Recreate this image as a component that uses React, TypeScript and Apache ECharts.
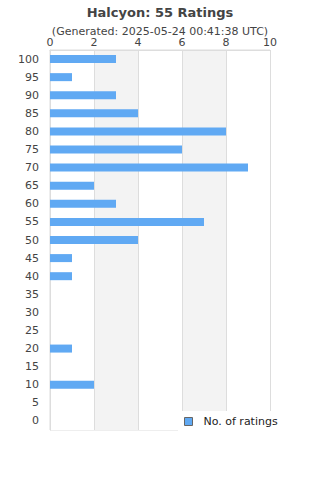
import React, { useEffect, useRef } from "react";
import * as echarts from "echarts";

const categories = ["0","5","10","15","20","25","30","35","40","45","50","55","60","65","70","75","80","85","90","95","100"];
const ratings = [0,0,2,0,1,0,0,0,1,1,4,7,3,2,9,6,8,4,3,1,3];
const xTicks = { min: 0, max: 10, interval: 2 };

export default function App() {
  const ref = useRef<HTMLDivElement>(null);
  useEffect(() => {
    const chart = echarts.init(ref.current!, null, { renderer: "svg" });
    const font = "DejaVu Sans";
    chart.setOption({
      animation: false,
      textStyle: { fontFamily: font },
      title: {
        text: "Halcyon: 55 Ratings",
        subtext: "(Generated: 2025-05-24 00:41:38 UTC)",
        left: "center",
        top: 1,
        itemGap: 7,
        textStyle: { fontSize: 13, fontWeight: "bold", color: "#444", fontFamily: font },
        subtextStyle: { fontSize: 11, color: "#444", fontFamily: font },
      },
      grid: { left: 50, right: 50, top: 50, bottom: 50, show: true, borderColor: "#ddd", borderWidth: 1, backgroundColor: "transparent" },
      xAxis: {
        type: "value",
        position: "top",
        min: xTicks.min,
        max: xTicks.max,
        interval: xTicks.interval,
        axisLine: { show: true, lineStyle: { color: "#ddd" } },
        axisTick: { show: false },
        axisLabel: { color: "#444", fontSize: 11, margin: 2, fontFamily: font },
        splitLine: { show: true, lineStyle: { color: "#ddd" } },
        splitArea: { show: true, areaStyle: { color: ["#ffffff", "#f3f3f3"] } },
      },
      yAxis: {
        type: "category",
        data: categories,
        axisLine: { show: true, lineStyle: { color: "#ddd" } },
        axisTick: { show: false },
        axisLabel: { color: "#444", fontSize: 11, margin: 11, fontFamily: font },
      },
      legend: {
        data: ["No. of ratings"],
        left: 178,
        top: 411,
        backgroundColor: "#fff",
        padding: [5, 40, 6, 6],
        icon: "rect",
        itemWidth: 8,
        itemHeight: 8,
        itemGap: 10,
        itemStyle: { borderColor: "#666", borderWidth: 1 },
        textStyle: { fontSize: 11, color: "#222", fontFamily: font, padding: [0, 0, 0, 6] },
      },
      series: [
        {
          name: "No. of ratings",
          type: "bar",
          data: ratings,
          barWidth: 8,
          itemStyle: { color: "#60a9f3" },
        },
      ],
    });
    return () => chart.dispose();
  }, []);
  return <div ref={ref} style={{ width: 320, height: 480, position: "absolute", left: 0, top: 0 }} />;
}
